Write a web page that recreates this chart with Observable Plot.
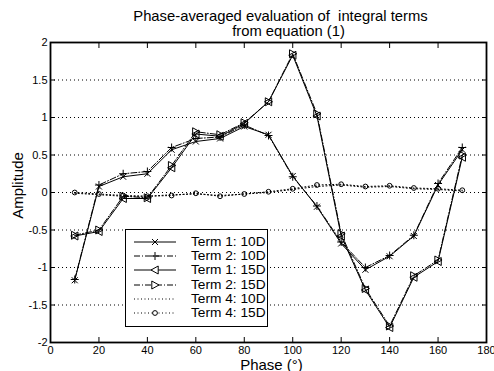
<!DOCTYPE html>
<html>
<head>
<meta charset="utf-8">
<script src="https://cdn.jsdelivr.net/npm/d3@7"></script>
<script src="https://cdn.jsdelivr.net/npm/@observablehq/plot@0.6"></script>
<style>
  body { margin: 0; background: white; }
  #wrap { position: relative; width: 494px; height: 371px; font-family: "Liberation Sans", Arial, Helvetica, sans-serif; }
  #legend { position: absolute; left: 125px; top: 229px; width: 141px; height: 96px; border: 1.5px solid black; background: white; box-sizing: content-box; }
  .row { position: absolute; left: 0; height: 14px; display: flex; align-items: center; }
  .row span { font-size: 13.7px; line-height: 14px; white-space: nowrap; }
</style>
</head>
<body>
<div id="wrap"></div>
<script>
// ---- data ----
const phase = [10, 20, 30, 40, 50, 60, 70, 80, 90, 100, 110, 120, 130, 140, 150, 160, 170];
const term1_10D = [-1.17, 0.08, 0.21, 0.25, 0.57, 0.68, 0.72, 0.88, 0.77, 0.22, -0.19, -0.68, -1.03, -0.85, -0.58, 0.10, 0.57];
const term2_10D = [-1.16, 0.10, 0.25, 0.28, 0.60, 0.72, 0.74, 0.90, 0.76, 0.21, -0.18, -0.66, -1.00, -0.84, -0.57, 0.12, 0.60];
const term1_15D = [-0.58, -0.52, -0.08, -0.08, 0.33, 0.78, 0.75, 0.92, 1.21, 1.83, 1.02, -0.58, -1.30, -1.80, -1.13, -0.92, 0.47];
const term2_15D = [-0.57, -0.50, -0.05, -0.07, 0.36, 0.81, 0.77, 0.93, 1.21, 1.85, 1.05, -0.55, -1.28, -1.78, -1.11, -0.90, 0.50];
const term4_10D = [-0.01, -0.03, -0.05, -0.05, -0.03, -0.02, -0.04, -0.02, 0.00, 0.04, 0.08, 0.10, 0.07, 0.08, 0.05, 0.04, 0.02];
const term4_15D = [0.00, -0.02, -0.04, -0.05, -0.04, -0.01, -0.05, -0.02, 0.01, 0.05, 0.10, 0.11, 0.08, 0.09, 0.06, 0.05, 0.03];
const seriesLabels = ["Term 1: 10D", "Term 2: 10D", "Term 1: 15D", "Term 2: 15D", "Term 4: 10D", "Term 4: 15D"];
const xTicks = [0, 20, 40, 60, 80, 100, 120, 140, 160, 180];
const yTicks = [-2, -1.5, -1, -0.5, 0, 0.5, 1, 1.5, 2];
const titleLines = ["Phase-averaged evaluation of  integral terms", "from equation (1)"];
const xLabel = "Phase (°)";
const yLabel = "Amplitude";

// ---- custom marker symbols ----
const symTimes = {draw(ctx, size) { const r = Math.sqrt(size / Math.PI) * 0.75; ctx.moveTo(-r, -r); ctx.lineTo(r, r); ctx.moveTo(-r, r); ctx.lineTo(r, -r); }};
const symPlus = {draw(ctx, size) { const r = Math.sqrt(size / Math.PI); ctx.moveTo(-r, 0); ctx.lineTo(r, 0); ctx.moveTo(0, -r); ctx.lineTo(0, r); }};
const symTriLeft = {draw(ctx, size) { const r = Math.sqrt(size / Math.PI); ctx.moveTo(-r, 0); ctx.lineTo(r * 0.8, -r); ctx.lineTo(r * 0.8, r); ctx.closePath(); }};
const symTriRight = {draw(ctx, size) { const r = Math.sqrt(size / Math.PI); ctx.moveTo(r, 0); ctx.lineTo(-r * 0.8, -r); ctx.lineTo(-r * 0.8, r); ctx.closePath(); }};
const symCircle = {draw(ctx, size) { const r = Math.sqrt(size / Math.PI) * 0.6; ctx.moveTo(r, 0); ctx.arc(0, 0, r, 0, 2 * Math.PI); }};

const dashDot = "6,2,1,2";
const dotted = "1,2.5";
const series = [
  {label: seriesLabels[0], values: term1_10D, dash: null, symbol: symTimes},
  {label: seriesLabels[1], values: term2_10D, dash: dashDot, symbol: symPlus},
  {label: seriesLabels[2], values: term1_15D, dash: null, symbol: symTriLeft},
  {label: seriesLabels[3], values: term2_15D, dash: dashDot, symbol: symTriRight},
  {label: seriesLabels[4], values: term4_10D, dash: dotted, symbol: null},
  {label: seriesLabels[5], values: term4_15D, dash: dotted, symbol: symCircle}
];

const marks = [
  Plot.gridY(yTicks.slice(1, -1), {stroke: "black", strokeOpacity: 1, strokeDasharray: "1,3", strokeWidth: 1}),
];
for (const s of series) {
  const rows = phase.map((p, i) => ({x: p, y: s.values[i]}));
  marks.push(Plot.line(rows, {x: "x", y: "y", stroke: "black", strokeWidth: 1, strokeDasharray: s.dash || undefined}));
  if (s.symbol) marks.push(Plot.dot(rows, {x: "x", y: "y", symbol: () => s.symbol, r: 4, stroke: "black", fill: "none", strokeWidth: 1}));
}
marks.push(
  Plot.axisX(xTicks, {anchor: "bottom", tickSize: -5, tickPadding: 9, tickFormat: d => String(d), fontSize: 11, label: null}),
  Plot.axisX(xTicks, {anchor: "top", tickSize: -5, tickFormat: () => "", label: null}),
  Plot.axisY(yTicks, {anchor: "left", tickSize: -5, tickPadding: 8, tickFormat: d => String(d), fontSize: 11, label: null}),
  Plot.axisY(yTicks, {anchor: "right", tickSize: -5, tickFormat: () => "", label: null}),
  Plot.frame({stroke: "black", strokeWidth: 1.8}),
  Plot.text([titleLines[0]], {frameAnchor: "top", dy: -32, dx: 12, fontSize: 14.8}),
  Plot.text([titleLines[1]], {frameAnchor: "top", dy: -17, dx: 20, fontSize: 14.8}),
  Plot.text([xLabel], {frameAnchor: "bottom", lineAnchor: "bottom", dy: 27, dx: 3, fontSize: 15}),
  Plot.text([yLabel], {frameAnchor: "left", textAnchor: "middle", dx: -32, dy: -7, rotate: -90, fontSize: 15})
);

const chart = Plot.plot({
  width: 494,
  height: 371,
  marginTop: 42,
  marginBottom: 29,
  marginLeft: 50,
  marginRight: 8,
  style: {fontFamily: '"Liberation Sans", Arial, Helvetica, sans-serif', color: "black", background: "white", overflow: "visible"},
  x: {domain: [0, 180]},
  y: {domain: [-2, 2]},
  marks
});
const wrap = document.getElementById("wrap");
wrap.appendChild(chart);

// ---- legend (layout overlay) ----
const legend = document.createElement("div");
legend.id = "legend";
const tops = [5, 19, 33, 48, 62, 76];
series.forEach((s, i) => {
  const row = document.createElement("div");
  row.className = "row";
  row.style.top = tops[i] + "px";
  const ns = "http://www.w3.org/2000/svg";
  const svg = document.createElementNS(ns, "svg");
  svg.setAttribute("width", 46); svg.setAttribute("height", 14);
  svg.style.marginLeft = "6px";
  const line = document.createElementNS(ns, "line");
  line.setAttribute("x1", 2); line.setAttribute("x2", 44); line.setAttribute("y1", 7); line.setAttribute("y2", 7);
  line.setAttribute("stroke", "black");
  if (s.dash) line.setAttribute("stroke-dasharray", s.dash);
  svg.appendChild(line);
  if (s.symbol) {
    const p = document.createElementNS(ns, "path");
    p.setAttribute("d", d3.symbol(s.symbol, 16 * Math.PI)());
    p.setAttribute("transform", "translate(23,7)");
    p.setAttribute("stroke", "black"); p.setAttribute("fill", s.symbol === symCircle || s.symbol === symTriLeft || s.symbol === symTriRight ? "white" : "none");
    svg.appendChild(p);
  }
  row.appendChild(svg);
  const t = document.createElement("span");
  t.textContent = s.label;
  t.style.marginLeft = "13px";
  row.appendChild(t);
  legend.appendChild(row);
});
wrap.appendChild(legend);
</script>
</body>
</html>
